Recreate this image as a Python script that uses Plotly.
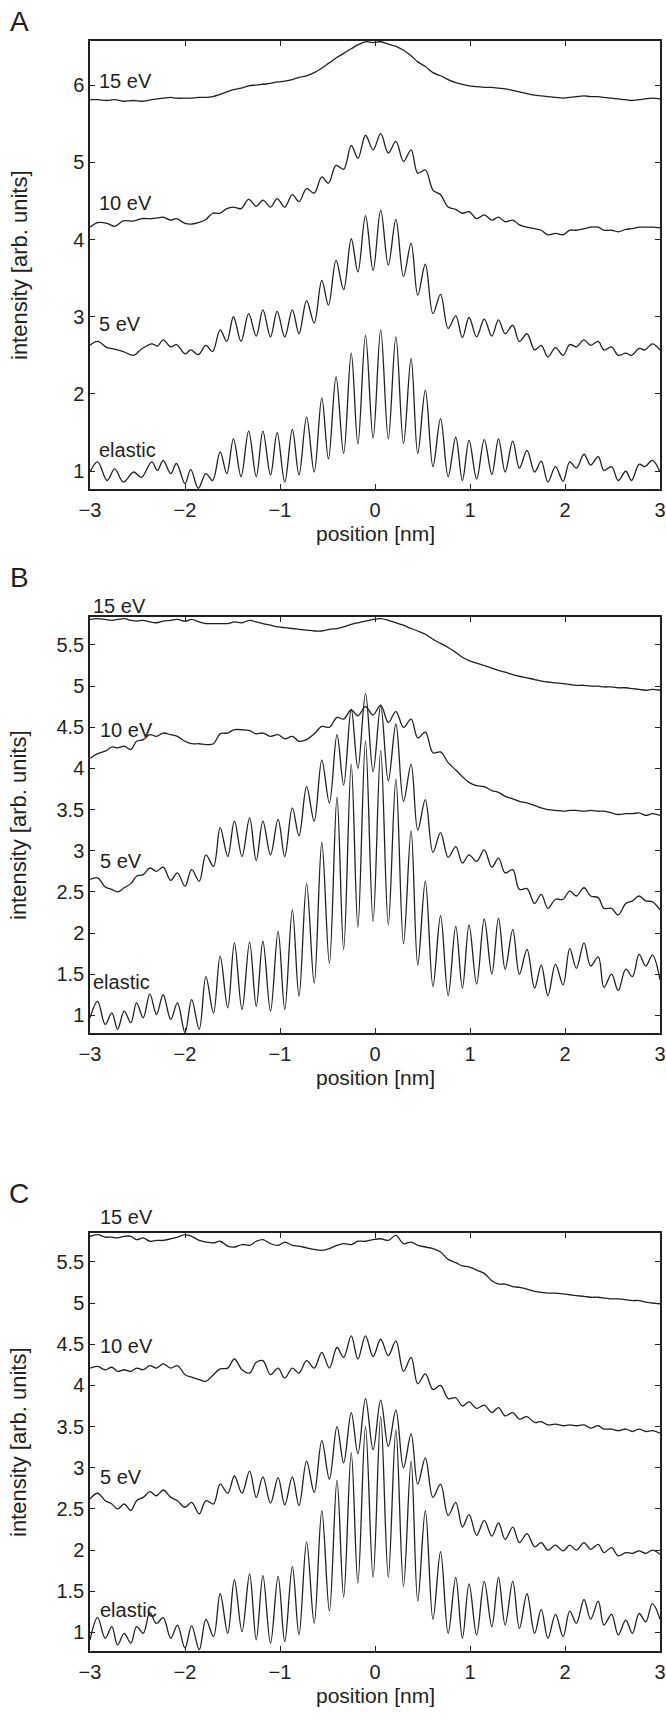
import plotly.graph_objects as go

# ---------------------------------------------------------------- DATA ---- #
# positions [nm] of the read-off points (maxima / minima of the elastic trace)
x_a = [-3.0, -2.92, -2.82, -2.74, -2.65, -2.54, -2.46, -2.35, -2.29, -2.23,
       -2.15, -2.09, -2.00, -1.94, -1.86, -1.78, -1.71, -1.63,
       -1.56, -1.49, -1.41, -1.33, -1.25, -1.18, -1.10, -1.03, -0.95, -0.87,
       -0.80, -0.72, -0.64, -0.56, -0.49, -0.41, -0.33, -0.25, -0.18, -0.10, -0.02,
       0.06, 0.14, 0.22, 0.30, 0.38, 0.45, 0.53, 0.61, 0.69, 0.77,
       0.85, 0.92, 0.99, 1.07, 1.15, 1.23, 1.30, 1.37, 1.45, 1.52,
       1.60, 1.68, 1.75, 1.82, 1.90, 1.98, 2.05, 2.12, 2.20, 2.27,
       2.35, 2.41, 2.49, 2.56, 2.64, 2.70, 2.78, 2.84, 2.92, 3.0]

elastic_a = [0.99, 1.12, 0.88, 1.03, 0.86, 0.99, 0.92, 1.12, 1.01, 1.14,
             0.97, 1.10, 0.84, 1.02, 0.78, 0.97, 0.88, 1.25,
             0.97, 1.42, 0.93, 1.52, 0.93, 1.52, 0.95, 1.50, 0.86, 1.54,
             0.95, 1.70, 0.99, 1.95, 1.16, 2.22, 1.23, 2.53, 1.35, 2.76, 1.43,
             2.83, 1.42, 2.74, 1.36, 2.46, 1.23, 2.05, 1.06, 1.68, 0.93,
             1.44, 0.88, 1.40, 0.90, 1.41, 0.96, 1.42, 0.99, 1.39, 1.04,
             1.27, 0.99, 1.13, 0.86, 1.06, 0.87, 1.12, 1.04, 1.22, 1.08,
             1.19, 1.01, 1.06, 0.88, 1.00, 0.88, 1.09, 1.06, 1.14, 0.99]

ev5_a = [2.63, 2.68, 2.60, 2.58, 2.55, 2.50, 2.58, 2.65, 2.62, 2.70,
         2.61, 2.64, 2.52, 2.57, 2.51, 2.63, 2.55, 2.83,
         2.68, 3.00, 2.68, 3.04, 2.75, 3.09, 2.74, 3.07, 2.74, 3.09,
         2.78, 3.21, 2.92, 3.47, 3.15, 3.73, 3.35, 4.01, 3.58, 4.31, 3.60,
         4.38, 3.67, 4.26, 3.52, 3.95, 3.28, 3.68, 3.04, 3.29, 2.85,
         3.01, 2.73, 2.99, 2.74, 2.97, 2.75, 2.96, 2.78, 2.89, 2.68,
         2.78, 2.57, 2.63, 2.48, 2.60, 2.50, 2.64, 2.61, 2.70, 2.63,
         2.68, 2.57, 2.61, 2.50, 2.53, 2.50, 2.59, 2.57, 2.65, 2.57]

ev10_a = [4.16, 4.22, 4.21, 4.17, 4.24, 4.24, 4.27, 4.27, 4.28, 4.29,
          4.25, 4.27, 4.21, 4.20, 4.22, 4.26, 4.34, 4.34,
          4.40, 4.42, 4.40, 4.52, 4.43, 4.51, 4.42, 4.53, 4.42, 4.58,
          4.49, 4.66, 4.60, 4.81, 4.73, 4.96, 4.91, 5.22, 5.05, 5.35, 5.16,
          5.37, 5.12, 5.27, 5.01, 5.16, 4.86, 4.90, 4.64, 4.58, 4.42,
          4.39, 4.34, 4.36, 4.27, 4.32, 4.25, 4.29, 4.23, 4.25, 4.19,
          4.16, 4.14, 4.12, 4.06, 4.08, 4.06, 4.12, 4.12, 4.14, 4.16,
          4.16, 4.12, 4.12, 4.10, 4.13, 4.14, 4.16, 4.16, 4.16, 4.15]

ev15_a = [5.81, 5.81, 5.80, 5.81, 5.79, 5.80, 5.79, 5.81, 5.82, 5.83,
          5.84, 5.83, 5.83, 5.83, 5.84, 5.84, 5.85, 5.88,
          5.91, 5.94, 5.96, 5.99, 6.00, 6.01, 6.02, 6.04, 6.05, 6.07,
          6.10, 6.12, 6.16, 6.22, 6.28, 6.35, 6.41, 6.47, 6.52, 6.56, 6.55,
          6.56, 6.53, 6.50, 6.45, 6.38, 6.30, 6.24, 6.16, 6.12, 6.07,
          6.03, 6.01, 5.99, 5.98, 5.97, 5.97, 5.96, 5.95, 5.93, 5.91,
          5.89, 5.87, 5.86, 5.85, 5.84, 5.83, 5.84, 5.85, 5.86, 5.85,
          5.85, 5.84, 5.83, 5.82, 5.81, 5.80, 5.81, 5.82, 5.83, 5.82]

# panels B and C share one set of read-off positions
x_bc = [-3.0, -2.92, -2.84, -2.77, -2.71, -2.64, -2.57, -2.51, -2.44, -2.37,
        -2.30, -2.23, -2.15, -2.08, -2.00, -1.93, -1.85, -1.78, -1.70, -1.63,
        -1.55, -1.48, -1.40, -1.32, -1.25, -1.18, -1.10, -1.02, -0.95, -0.87,
        -0.80, -0.72, -0.64, -0.56, -0.48, -0.40, -0.33, -0.25, -0.18, -0.10,
        -0.02, 0.06, 0.14, 0.22, 0.30, 0.38, 0.45, 0.53, 0.61, 0.69,
        0.77, 0.85, 0.92, 0.99, 1.07, 1.15, 1.23, 1.30, 1.37, 1.45,
        1.52, 1.60, 1.68, 1.75, 1.82, 1.90, 1.98, 2.05, 2.12, 2.20,
        2.27, 2.35, 2.41, 2.49, 2.56, 2.64, 2.71, 2.78, 2.85, 2.92,
        3.0]

elastic_b = [0.97, 1.17, 0.89, 1.03, 0.83, 1.05, 0.91, 1.15, 0.97, 1.26,
             1.01, 1.25, 0.95, 1.15, 0.79, 1.19, 0.83, 1.47, 1.03, 1.72,
             1.09, 1.88, 1.07, 1.89, 1.11, 1.90, 1.05, 2.02, 1.07, 2.28,
             1.23, 2.60, 1.39, 3.10, 1.63, 3.65, 1.80, 4.05, 2.07, 4.33,
             2.14, 4.22, 2.10, 3.87, 1.87, 3.24, 1.61, 2.63, 1.35, 2.21,
             1.24, 2.08, 1.33, 2.10, 1.38, 2.17, 1.50, 2.18, 1.56, 2.04,
             1.50, 1.80, 1.33, 1.61, 1.24, 1.62, 1.37, 1.81, 1.57, 1.88,
             1.60, 1.71, 1.34, 1.50, 1.30, 1.56, 1.47, 1.74, 1.60, 1.73,
             1.43]

ev5_b = [2.65, 2.67, 2.56, 2.53, 2.50, 2.55, 2.60, 2.69, 2.71, 2.79,
         2.75, 2.80, 2.64, 2.73, 2.57, 2.77, 2.63, 2.95, 2.81, 3.28,
         2.93, 3.36, 2.93, 3.40, 2.88, 3.36, 2.95, 3.38, 2.93, 3.52,
         3.18, 3.78, 3.36, 4.10, 3.58, 4.41, 3.80, 4.72, 4.00, 4.91,
         3.96, 4.76, 3.85, 4.54, 3.60, 4.05, 3.25, 3.62, 2.98, 3.22,
         2.92, 3.05, 2.85, 2.95, 2.87, 3.01, 2.80, 2.91, 2.73, 2.77,
         2.53, 2.54, 2.36, 2.47, 2.30, 2.41, 2.41, 2.51, 2.45, 2.55,
         2.45, 2.43, 2.30, 2.30, 2.22, 2.36, 2.39, 2.45, 2.39, 2.38,
         2.28]

ev10_b = [4.12, 4.18, 4.21, 4.26, 4.25, 4.27, 4.23, 4.33, 4.35, 4.41,
          4.39, 4.43, 4.41, 4.39, 4.33, 4.30, 4.30, 4.29, 4.30, 4.42,
          4.43, 4.47, 4.47, 4.46, 4.42, 4.43, 4.39, 4.41, 4.36, 4.39,
          4.33, 4.35, 4.42, 4.51, 4.50, 4.62, 4.60, 4.71, 4.64, 4.75,
          4.65, 4.77, 4.56, 4.69, 4.50, 4.60, 4.37, 4.44, 4.19, 4.20,
          4.07, 3.98, 3.90, 3.83, 3.79, 3.78, 3.73, 3.71, 3.66, 3.63,
          3.60, 3.58, 3.55, 3.52, 3.50, 3.49, 3.48, 3.49, 3.49, 3.48,
          3.49, 3.48, 3.48, 3.46, 3.44, 3.45, 3.45, 3.46, 3.43, 3.45,
          3.43]

ev15_b = [5.81, 5.82, 5.81, 5.80, 5.81, 5.82, 5.80, 5.79, 5.80, 5.78,
          5.77, 5.79, 5.80, 5.81, 5.79, 5.81, 5.78, 5.76, 5.76, 5.76,
          5.76, 5.78, 5.77, 5.80, 5.78, 5.76, 5.74, 5.72, 5.71, 5.70,
          5.69, 5.68, 5.67, 5.67, 5.69, 5.70, 5.72, 5.75, 5.77, 5.79,
          5.81, 5.82, 5.80, 5.77, 5.74, 5.70, 5.67, 5.63, 5.57, 5.52,
          5.47, 5.41, 5.35, 5.31, 5.28, 5.25, 5.22, 5.19, 5.17, 5.14,
          5.12, 5.10, 5.08, 5.06, 5.05, 5.04, 5.03, 5.02, 5.01, 5.01,
          5.00, 5.00, 4.99, 4.99, 4.98, 4.98, 4.97, 4.96, 4.95, 4.96,
          4.95]

elastic_c = [0.91, 1.18, 0.93, 1.07, 0.85, 0.99, 0.87, 1.07, 0.99, 1.24,
             1.11, 1.18, 0.93, 1.09, 0.81, 1.08, 0.79, 1.16, 0.95, 1.47,
             0.99, 1.64, 1.01, 1.71, 0.91, 1.69, 0.87, 1.68, 0.89, 1.80,
             0.97, 2.10, 1.11, 2.48, 1.26, 2.85, 1.43, 3.18, 1.60, 3.50,
             1.67, 3.62, 1.67, 3.46, 1.56, 3.08, 1.38, 2.48, 1.16, 1.98,
             0.99, 1.67, 0.93, 1.59, 0.97, 1.62, 1.07, 1.67, 1.09, 1.62,
             1.05, 1.47, 0.99, 1.28, 0.93, 1.22, 0.95, 1.26, 1.11, 1.40,
             1.16, 1.38, 1.09, 1.22, 0.97, 1.15, 0.99, 1.23, 1.13, 1.35,
             1.16]

ev5_c = [2.62, 2.69, 2.60, 2.56, 2.50, 2.56, 2.48, 2.60, 2.64, 2.71,
         2.66, 2.73, 2.64, 2.60, 2.52, 2.58, 2.44, 2.60, 2.56, 2.80,
         2.69, 2.90, 2.69, 2.96, 2.64, 2.89, 2.57, 2.88, 2.55, 2.89,
         2.54, 3.08, 2.70, 3.33, 2.86, 3.50, 3.06, 3.67, 3.17, 3.84,
         3.22, 3.82, 3.26, 3.70, 3.00, 3.41, 2.80, 3.12, 2.64, 2.80,
         2.42, 2.58, 2.28, 2.43, 2.18, 2.36, 2.17, 2.33, 2.13, 2.28,
         2.09, 2.20, 2.04, 2.09, 2.00, 2.06, 1.99, 2.06, 2.00, 2.09,
         2.01, 2.07, 1.97, 2.03, 1.93, 1.97, 1.96, 1.99, 1.96, 2.00,
         1.95]

ev10_c = [4.21, 4.23, 4.19, 4.22, 4.17, 4.19, 4.17, 4.21, 4.19, 4.24,
          4.21, 4.26, 4.21, 4.24, 4.13, 4.10, 4.07, 4.05, 4.13, 4.20,
          4.21, 4.32, 4.19, 4.15, 4.28, 4.30, 4.13, 4.21, 4.09, 4.21,
          4.15, 4.30, 4.21, 4.40, 4.21, 4.46, 4.34, 4.60, 4.32, 4.60,
          4.35, 4.56, 4.36, 4.54, 4.17, 4.34, 4.02, 4.14, 3.95, 4.00,
          3.84, 3.85, 3.75, 3.80, 3.72, 3.76, 3.67, 3.73, 3.63, 3.67,
          3.59, 3.62, 3.55, 3.56, 3.52, 3.53, 3.51, 3.52, 3.51, 3.52,
          3.48, 3.51, 3.47, 3.47, 3.45, 3.47, 3.44, 3.47, 3.44, 3.45,
          3.42]

ev15_c = [5.81, 5.83, 5.80, 5.80, 5.79, 5.81, 5.81, 5.77, 5.79, 5.75,
          5.76, 5.76, 5.78, 5.80, 5.83, 5.81, 5.76, 5.74, 5.73, 5.75,
          5.69, 5.68, 5.71, 5.70, 5.75, 5.77, 5.72, 5.70, 5.74, 5.70,
          5.69, 5.67, 5.65, 5.64, 5.66, 5.70, 5.72, 5.71, 5.75, 5.75,
          5.77, 5.78, 5.76, 5.82, 5.72, 5.74, 5.70, 5.68, 5.66, 5.62,
          5.53, 5.49, 5.45, 5.44, 5.40, 5.36, 5.27, 5.23, 5.23, 5.20,
          5.19, 5.17, 5.14, 5.13, 5.12, 5.12, 5.11, 5.10, 5.09, 5.08,
          5.07, 5.07, 5.06, 5.05, 5.05, 5.04, 5.03, 5.03, 5.01, 5.00,
          4.99]

x_ticks = [-3, -2, -1, 0, 1, 2, 3]
y_ticks_a = [1, 2, 3, 4, 5, 6]
y_ticks_bc = [1, 1.5, 2, 2.5, 3, 3.5, 4, 4.5, 5, 5.5]
curve_names = ['elastic', '5 eV', '10 eV', '15 eV']

# ------------------------------------------------------------- STYLE ---- #
INK = '#231f20'
FONT = 'Liberation Sans, Arial, sans-serif'
W, H = 666, 1723
ML, MR = 90, 6

# plot-area pixel rows (top, bottom) of the three panels; label positions in data units
panels = {
    'A': dict(top=41, bottom=489, yr=[0.77, 6.57], yt=y_ticks_a, x=x_a,
              ys=[elastic_a, ev5_a, ev10_a, ev15_a],
              lab=[(-2.93, 1.28), (-2.93, 2.90), (-2.93, 4.47), (-2.93, 6.05)]),
    'B': dict(top=617, bottom=1033, yr=[0.785, 5.84], yt=y_ticks_bc, x=x_bc,
              ys=[elastic_b, ev5_b, ev10_b, ev15_b],
              lab=[(-2.99, 1.41), (-2.92, 2.87), (-2.92, 4.47), (-2.99, 5.97)]),
    'C': dict(top=1233, bottom=1651, yr=[0.775, 5.85], yt=y_ticks_bc, x=x_bc,
              ys=[elastic_c, ev5_c, ev10_c, ev15_c],
              lab=[(-2.92, 1.27), (-2.92, 2.89), (-2.92, 4.48), (-2.92, 6.05)]),
}

fig = go.Figure()
annotations = []


def txt(x, y, text, size, **kw):
    d = dict(x=x, y=y, xref='paper', yref='paper', text=text, showarrow=False,
             xanchor='left', yanchor='middle', font=dict(family=FONT, size=size, color=INK))
    d.update(kw)
    return d


for i, (letter, p) in enumerate(panels.items(), start=1):
    sfx = '' if i == 1 else str(i)
    dom = [1 - p['bottom'] / H, 1 - p['top'] / H]

    for y_vals in p['ys']:
        fig.add_trace(go.Scatter(x=p['x'], y=y_vals, mode='lines',
                                 line=dict(color=INK, width=1.3, shape='spline', smoothing=1.0),
                                 xaxis='x' + sfx, yaxis='y' + sfx, hoverinfo='skip'))

    common = dict(showline=True, linecolor=INK, linewidth=1.5, mirror='ticks',
                  ticks='inside', ticklen=5, tickwidth=1, tickcolor=INK,
                  showgrid=False, zeroline=False, ticklabeloverflow='allow',
                  tickfont=dict(family=FONT, size=20, color=INK))
    fig.update_layout(**{
        'xaxis' + sfx: dict(common, domain=[0, 1], range=[-3, 3], tickvals=x_ticks,
                            anchor='y' + sfx, ticklabelstandoff=2),
        'yaxis' + sfx: dict(common, domain=dom, range=p['yr'], tickvals=p['yt'],
                            anchor='x' + sfx, ticklabelstandoff=0),
    })

    # curve labels (paper coords so the ones above the frame stay visible)
    y0, y1 = p['yr']
    for name, (lx, ly) in zip(curve_names, p['lab']):
        px = (lx + 3) / 6
        py = dom[0] + (ly - y0) / (y1 - y0) * (dom[1] - dom[0])
        annotations.append(txt(px, py, name, 20))

    # panel letter
    annotations.append(txt((19 - ML) / (W - ML - MR), 1 - (p['top'] - 19 - (0 if letter == 'A' else 21)) / H,
                           letter, 28, xanchor='center'))
    # axis titles
    annotations.append(txt((19 - ML) / (W - ML - MR), (dom[0] + dom[1]) / 2,
                           'intensity [arb. units]', 22, xanchor='center', textangle=-90))
    annotations.append(txt(0.5, 1 - (p['bottom'] + 44) / H, 'position [nm]', 21, xanchor='center'))

fig.update_layout(width=W, height=H, margin=dict(l=ML, r=MR, t=0, b=0),
                  paper_bgcolor='white', plot_bgcolor='white', showlegend=False,
                  annotations=annotations)

fig.write_html('out.html', config={'displayModeBar': False},
               post_script="document.body.style.margin='0px';")
